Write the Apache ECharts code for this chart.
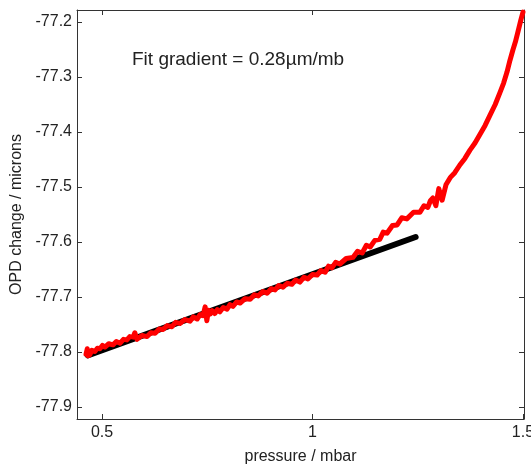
<!DOCTYPE html>
<html><head><meta charset="utf-8">
<script src="https://cdn.jsdelivr.net/npm/echarts@6/dist/echarts.min.js"></script>
<style>html,body{margin:0;padding:0;background:#fff}#c{width:531px;height:465px}</style>
</head><body><div id="c"></div>
<script>
const xTicks = [0.5, 1, 1.5];
const yTicks = [-77.9, -77.8, -77.7, -77.6, -77.5, -77.4, -77.3, -77.2];
const pressure = [0.462,0.465,0.467,0.469,0.471,0.476,0.483,0.489,0.495,0.501,0.507,0.516,0.526,0.534,0.543,0.551,0.559,0.566,0.574,0.578,0.583,0.595,0.607,0.616,0.626,0.636,0.645,0.655,0.666,0.675,0.685,0.697,0.709,0.717,0.726,0.733,0.740,0.745,0.749,0.753,0.757,0.762,0.768,0.774,0.780,0.788,0.797,0.804,0.811,0.820,0.828,0.840,0.852,0.862,0.871,0.882,0.892,0.902,0.911,0.920,0.930,0.940,0.951,0.960,0.970,0.980,0.989,1.000,1.011,1.020,1.030,1.038,1.046,1.055,1.065,1.080,1.096,1.107,1.118,1.128,1.137,1.148,1.160,1.168,1.177,1.190,1.201,1.212,1.224,1.240,1.255,1.265,1.274,1.280,1.286,1.293,1.300,1.308,1.317,1.327,1.338,1.350,1.362,1.374,1.386,1.398,1.410,1.422,1.434,1.445,1.454,1.462,1.469,1.476,1.482,1.488,1.495,1.500];
const opdMeasured = [-77.804,-77.794,-77.807,-77.798,-77.805,-77.797,-77.799,-77.793,-77.794,-77.788,-77.791,-77.785,-77.787,-77.781,-77.784,-77.777,-77.778,-77.772,-77.773,-77.765,-77.777,-77.770,-77.772,-77.765,-77.766,-77.758,-77.759,-77.752,-77.754,-77.746,-77.748,-77.741,-77.744,-77.736,-77.740,-77.732,-77.734,-77.718,-77.743,-77.724,-77.731,-77.725,-77.730,-77.723,-77.727,-77.719,-77.722,-77.714,-77.717,-77.709,-77.711,-77.703,-77.704,-77.696,-77.698,-77.690,-77.693,-77.685,-77.687,-77.679,-77.682,-77.675,-77.677,-77.669,-77.673,-77.664,-77.667,-77.659,-77.660,-77.652,-77.655,-77.644,-77.647,-77.637,-77.640,-77.630,-77.628,-77.617,-77.620,-77.606,-77.609,-77.597,-77.595,-77.582,-77.584,-77.570,-77.569,-77.556,-77.558,-77.546,-77.546,-77.534,-77.537,-77.525,-77.520,-77.534,-77.503,-77.524,-77.496,-77.483,-77.474,-77.460,-77.448,-77.433,-77.420,-77.404,-77.388,-77.369,-77.350,-77.329,-77.311,-77.291,-77.270,-77.251,-77.236,-77.218,-77.196,-77.182];
const fitPressure = [0.466, 1.245];
const fitOpd = [-77.806, -77.591];
const annotation = 'Fit gradient = 0.28\u00b5m/mb';

const FONT = 'Liberation Sans, Arial, sans-serif';
const axisColor = '#333';
const chart = echarts.init(document.getElementById('c'), null, {renderer: 'canvas'});
const xBase = {type: 'value', min: 0.4406, max: 1.5024,
  axisLine: {show: true, onZero: false, lineStyle: {color: axisColor, width: 1}},
  splitLine: {show: false}};
const yBase = {type: 'value', min: -77.9218, max: -77.1782,
  axisLine: {show: true, onZero: false, lineStyle: {color: axisColor, width: 1}},
  splitLine: {show: false}};
chart.setOption({
  animation: false,
  backgroundColor: '#fff',
  grid: {left: 77, top: 10, right: 7, bottom: 46, containLabel: false, outerBoundsMode: 'none'},
  xAxis: [
    Object.assign({}, xBase, {position: 'bottom', name: 'pressure / mbar', nameLocation: 'middle', nameGap: 30,
      nameTextStyle: {color: '#222', fontSize: 16, fontFamily: FONT},
      axisTick: {show: true, inside: true, length: 5, customValues: xTicks, lineStyle: {color: axisColor}},
      axisLabel: {show: true, customValues: xTicks, color: '#222', fontSize: 16, fontFamily: FONT, margin: 6,
        formatter: v => String(v)}}),
    Object.assign({}, xBase, {position: 'top',
      axisTick: {show: true, inside: true, length: 5, customValues: xTicks, lineStyle: {color: axisColor}},
      axisLabel: {show: false}})
  ],
  yAxis: [
    Object.assign({}, yBase, {position: 'left', name: 'OPD change / microns', nameLocation: 'middle', nameGap: 51,
      nameTextStyle: {color: '#222', fontSize: 16, fontFamily: FONT},
      axisTick: {show: true, inside: true, length: 5, customValues: yTicks, lineStyle: {color: axisColor}},
      axisLabel: {show: true, customValues: yTicks, color: '#222', fontSize: 16, fontFamily: FONT, margin: 5,
        formatter: v => v.toFixed(1)}}),
    Object.assign({}, yBase, {position: 'right',
      axisTick: {show: true, inside: true, length: 5, customValues: yTicks, lineStyle: {color: axisColor}},
      axisLabel: {show: false}})
  ],
  series: [
    {type: 'line', xAxisIndex: 0, yAxisIndex: 0, showSymbol: false, symbol: 'none',
      data: fitPressure.map((x, i) => [x, fitOpd[i]]),
      lineStyle: {color: '#000', width: 6, cap: 'round'}, z: 2},
    {type: 'line', xAxisIndex: 0, yAxisIndex: 0, showSymbol: false, symbol: 'none',
      data: pressure.map((x, i) => [x, opdMeasured[i]]),
      lineStyle: {color: '#ff0000', width: 5, join: 'round', cap: 'round'}, z: 3}
  ],
  graphic: [{type: 'text', left: 132, top: 50,
    style: {text: annotation, fill: '#222', fontSize: 19, fontFamily: FONT}}]
});
</script></body></html>
